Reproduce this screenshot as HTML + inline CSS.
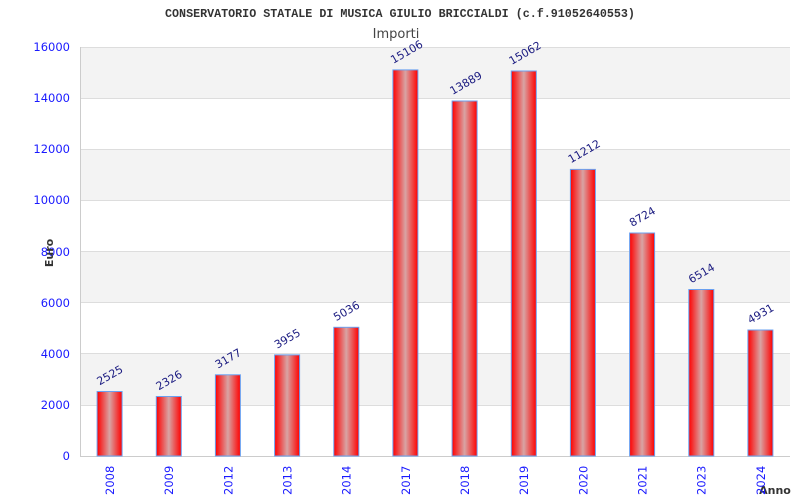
<!DOCTYPE html>
<html><head><meta charset="utf-8"><style>body{margin:0;background:#fff}svg{display:block}</style></head><body>
<svg width="800" height="500" xmlns="http://www.w3.org/2000/svg" font-family="DejaVu Sans, Liberation Sans, sans-serif">
<defs><linearGradient id="g" x1="0" x2="1" y1="0" y2="0">
<stop offset="0" stop-color="#ff0000"/><stop offset="0.5" stop-color="#d8a4a4"/><stop offset="1" stop-color="#ff0000"/></linearGradient></defs>
<text x="400" y="17" text-anchor="middle" font-family="Liberation Mono, monospace" font-weight="bold" font-size="11.7" fill="#333">CONSERVATORIO STATALE DI MUSICA GIULIO BRICCIALDI (c.f.91052640553)</text>
<text x="396" y="38" text-anchor="middle" font-size="13" fill="#444">Importi</text>
<rect x="80" y="47" width="710" height="409" fill="#fff"/>
<g fill="#f3f3f3"><rect x="80" y="47" width="710" height="51.1"/><rect x="80" y="149.25" width="710" height="51.1"/><rect x="80" y="251.5" width="710" height="51.1"/><rect x="80" y="353.75" width="710" height="51.1"/></g>
<g stroke="#ddd" stroke-width="1"><line x1="80" x2="790" y1="98.5" y2="98.5"/><line x1="80" x2="790" y1="149.5" y2="149.5"/><line x1="80" x2="790" y1="200.5" y2="200.5"/><line x1="80" x2="790" y1="251.5" y2="251.5"/><line x1="80" x2="790" y1="302.5" y2="302.5"/><line x1="80" x2="790" y1="353.5" y2="353.5"/><line x1="80" x2="790" y1="405.5" y2="405.5"/><line x1="80" x2="790" y1="47.5" y2="47.5"/></g>
<line x1="80.5" y1="47" x2="80.5" y2="457" stroke="#ccc"/><line x1="80" y1="456.5" x2="790" y2="456.5" stroke="#ccc"/>
<g font-size="11.5" fill="#1a1aff" text-anchor="end">
<text x="70" y="51">16000</text><text x="70" y="102">14000</text><text x="70" y="153">12000</text><text x="70" y="204">10000</text><text x="70" y="256">8000</text><text x="70" y="307">6000</text><text x="70" y="358">4000</text><text x="70" y="409">2000</text><text x="70" y="460">0</text></g>
<text transform="translate(53,253) rotate(-90)" text-anchor="middle" font-size="11" font-weight="bold" fill="#333">Euro</text>
<text x="775" y="494" text-anchor="middle" font-size="11" font-weight="bold" fill="#333">Anno</text>
<g stroke="#6aa0f0" stroke-width="1" fill="url(#g)">
<rect x="97.1" y="391.5" width="25" height="64.5"/>
<rect x="156.3" y="396.5" width="25" height="59.5"/>
<rect x="215.4" y="374.8" width="25" height="81.2"/>
<rect x="274.6" y="354.9" width="25" height="101.1"/>
<rect x="333.8" y="327.3" width="25" height="128.7"/>
<rect x="392.9" y="69.9" width="25" height="386.1"/>
<rect x="452.1" y="101.0" width="25" height="355.0"/>
<rect x="511.3" y="71.0" width="25" height="385.0"/>
<rect x="570.4" y="169.4" width="25" height="286.6"/>
<rect x="629.6" y="233.0" width="25" height="223.0"/>
<rect x="688.8" y="289.5" width="25" height="166.5"/>
<rect x="747.9" y="330.0" width="25" height="126.0"/>
</g>
<g font-size="11" fill="#1a1a80">
<text transform="translate(99.6,385.5) rotate(-30)">2525</text>
<text transform="translate(158.8,390.5) rotate(-30)">2326</text>
<text transform="translate(217.9,368.8) rotate(-30)">3177</text>
<text transform="translate(277.1,348.9) rotate(-30)">3955</text>
<text transform="translate(336.3,321.3) rotate(-30)">5036</text>
<text transform="translate(393.4,63.9) rotate(-30)">15106</text>
<text transform="translate(452.6,95.0) rotate(-30)">13889</text>
<text transform="translate(511.8,65.0) rotate(-30)">15062</text>
<text transform="translate(570.9,163.4) rotate(-30)">11212</text>
<text transform="translate(632.1,227.0) rotate(-30)">8724</text>
<text transform="translate(691.3,283.5) rotate(-30)">6514</text>
<text transform="translate(750.4,324.0) rotate(-30)">4931</text>
</g>
<g font-size="11.5" fill="#1a1aff">
<text transform="translate(114,495) rotate(-90)">2008</text>
<text transform="translate(173.2,495) rotate(-90)">2009</text>
<text transform="translate(232.3,495) rotate(-90)">2012</text>
<text transform="translate(291.5,495) rotate(-90)">2013</text>
<text transform="translate(350.7,495) rotate(-90)">2014</text>
<text transform="translate(409.8,495) rotate(-90)">2017</text>
<text transform="translate(469,495) rotate(-90)">2018</text>
<text transform="translate(528.2,495) rotate(-90)">2019</text>
<text transform="translate(587.3,495) rotate(-90)">2020</text>
<text transform="translate(646.5,495) rotate(-90)">2021</text>
<text transform="translate(705.7,495) rotate(-90)">2023</text>
<text transform="translate(764.8,495) rotate(-90)">2024</text>
</g>
</svg></body></html>
